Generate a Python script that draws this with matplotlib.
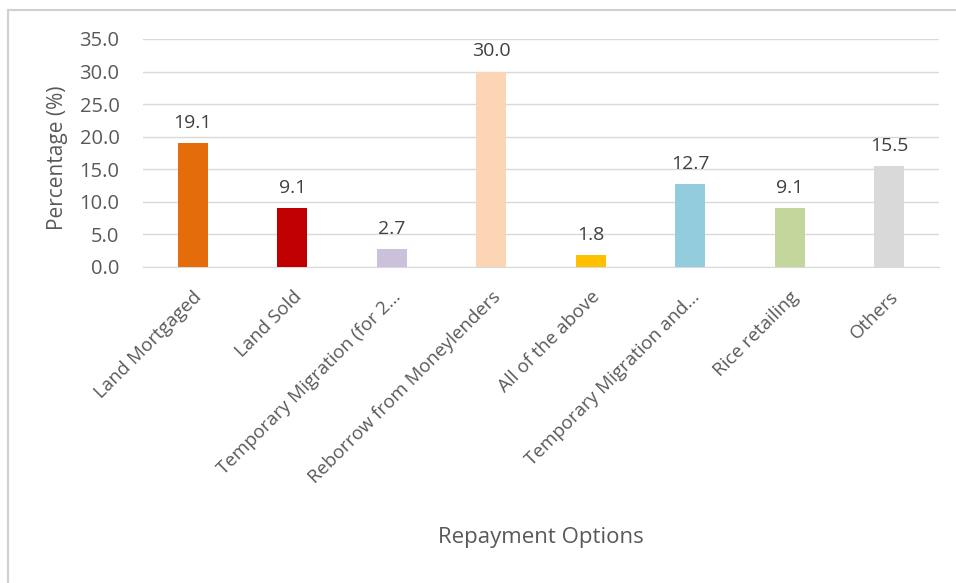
import matplotlib.pyplot as plt
from matplotlib.lines import Line2D

# repayment options and share of respondents
categories = ['Land Mortgaged', 'Land Sold', 'Temporary Migration (for 2...',
              'Reborrow from Moneylenders', 'All of the above',
              'Temporary Migration and...', 'Rice retailing', 'Others']
percentages = [19.1, 9.1, 2.7, 30.0, 1.8, 12.7, 9.1, 15.5]
colors = ['#E46C0A', '#C00000', '#CCC1DA', '#FCD5B5', '#FFC000',
          '#93CDDD', '#C3D69B', '#D9D9D9']
yticks = [0, 5, 10, 15, 20, 25, 30, 35]

plt.rcParams['font.family'] = ['Open Sans', 'DejaVu Sans']
text_color = '#595959'

fig = plt.figure(figsize=(9.56, 5.83), dpi=100)
# chart frame: only top and left edges show
y_top = 1 - 9.5 / 583
x_left = 7.5 / 956
fig.lines.append(Line2D([x_left, 1], [y_top, y_top], transform=fig.transFigure,
                        color='#D0D0D0', linewidth=1.5))
fig.lines.append(Line2D([x_left, x_left], [0, y_top], transform=fig.transFigure,
                        color='#D0D0D0', linewidth=1.5))

ax = fig.add_axes([143 / 956, 1 - 267 / 583, (939 - 143) / 956, (267 - 39) / 583])
x = range(len(categories))
bars = ax.bar(x, percentages, width=0.3, color=colors, zorder=3)

for rect, val in zip(bars, percentages):
    ax.text(rect.get_x() + rect.get_width() / 2, val + 1.7, f'{val:.1f}',
            ha='center', va='bottom', fontsize=14, color='#404040')

ax.set_xlim(-0.5, len(categories) - 0.5)
ax.set_ylim(0, 35)
ax.set_yticks(yticks)
ax.set_yticklabels([f'{t:.1f}' for t in yticks], fontsize=14.5, color=text_color)
ax.set_xticks(list(x))
ax.set_xticklabels(categories, rotation=45, ha='right', rotation_mode='anchor',
                   fontsize=13.5, color=text_color)
ax.tick_params(axis='y', length=0, pad=17)
ax.tick_params(axis='x', length=0, pad=15)

ax.grid(axis='y', color='#D9D9D9', linewidth=1, zorder=0)
for side in ['top', 'right', 'left']:
    ax.spines[side].set_visible(False)
ax.spines['bottom'].set_color('#D9D9D9')

fig.text(58 / 956, 1 - 158 / 583, 'Percentage (%)', ha='center', va='center',
         rotation=90, fontsize=15, color=text_color)
fig.text(541 / 956, 1 - 538 / 583, 'Repayment Options', ha='center', va='center',
         fontsize=16, color=text_color)

fig.savefig('out.png', dpi=100)
